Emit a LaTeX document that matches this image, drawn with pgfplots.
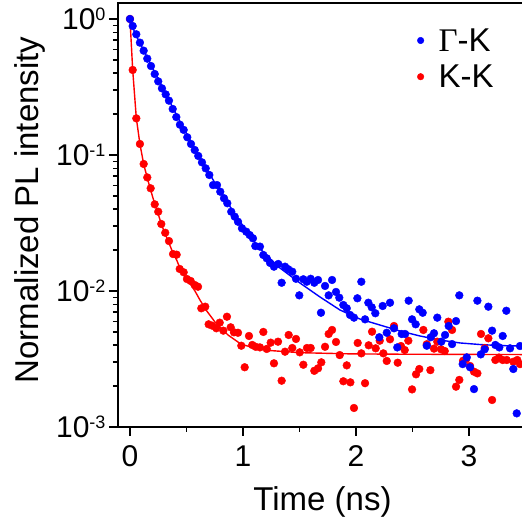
\documentclass[border=0pt]{standalone}
\usepackage{fontspec}
\setmainfont{Liberation Sans}
\newfontfamily\greekserif{Liberation Serif}
\usepackage{pgfplots}
\pgfplotsset{compat=1.18}

\newcommand\dec[1]{10\raisebox{8.6pt}{\fontsize{18}{18}\selectfont #1}}

% Gamma-K decay, measured points
\pgfplotstableread{
t I
0.000 1.000
0.024 0.888
0.056 0.772
0.088 0.670
0.121 0.585
0.153 0.511
0.186 0.451
0.219 0.394
0.250 0.348
0.283 0.309
0.316 0.279
0.345 0.251
0.378 0.218
0.410 0.190
0.442 0.167
0.475 0.153
0.507 0.135
0.540 0.1205
0.573 0.1088
0.604 0.0984
0.637 0.0883
0.670 0.0798
0.702 0.0713
0.735 0.0601
0.770 0.0601
0.799 0.0537
0.832 0.0481
0.861 0.0442
0.896 0.0383
0.927 0.0352
0.956 0.0323
0.991 0.0289
1.029 0.0273
1.059 0.0258
1.088 0.0244
1.109 0.0214
1.150 0.0212
1.180 0.0184
1.210 0.0174
1.239 0.0161
1.274 0.0151
1.312 0.0158
1.342 0.0115
1.372 0.0151
1.401 0.01445
1.436 0.01387
1.469 0.0123
1.498 0.00929
1.534 0.0122
1.564 0.0117
1.599 0.0123
1.631 0.0115
1.664 0.01205
1.690 0.00692
1.726 0.01089
1.758 0.00929
1.788 0.01205
1.823 0.00984
1.852 0.00893
1.888 0.00789
1.918 0.00746
1.947 0.00667
1.982 0.00637
2.012 0.00884
2.047 0.0117
2.080 0.00619
2.109 0.00820
2.139 0.00759
2.171 0.00686
2.206 0.00457
2.236 0.00776
2.272 0.00493
2.301 0.00820
2.336 0.00532
2.365 0.00385
2.404 0.00483
2.434 0.00483
2.466 0.00849
2.496 0.00619
2.528 0.00569
2.560 0.00733
2.590 0.00692
2.626 0.00396
2.661 0.00457
2.690 0.00489
2.719 0.00637
2.755 0.00424
2.788 0.00475
2.820 0.00553
2.850 0.00407
2.885 0.00601
2.914 0.00929
2.944 0.00290
2.980 0.00325
3.009 0.00275
3.044 0.00190
3.074 0.00849
3.104 0.00342
3.139 0.00373
3.171 0.00767
3.204 0.00511
3.233 0.00401
3.268 0.00385
3.298 0.00467
3.330 0.00716
3.363 0.00379
3.392 0.00267
3.422 0.00126
3.451 0.00394
}\gkdata

% K-K decay, measured points
\pgfplotstableread{
t I
0.000 1.000
0.024 0.422
0.056 0.186
0.088 0.1205
0.121 0.0859
0.153 0.0684
0.183 0.0569
0.219 0.0434
0.250 0.0383
0.277 0.0311
0.312 0.0268
0.345 0.0233
0.381 0.0187
0.413 0.0185
0.440 0.01452
0.475 0.01373
0.504 0.01225
0.537 0.01185
0.573 0.01107
0.602 0.01075
0.631 0.00746
0.666 0.00767
0.696 0.00569
0.728 0.00556
0.764 0.00532
0.794 0.00585
0.826 0.00511
0.858 0.00647
0.891 0.00541
0.920 0.00497
0.956 0.00493
0.985 0.00396
1.015 0.00275
1.053 0.00467
1.082 0.00401
1.112 0.00389
1.150 0.00385
1.180 0.00500
1.210 0.00375
1.245 0.00417
1.274 0.00294
1.310 0.00424
1.342 0.00219
1.372 0.00358
1.404 0.00475
1.436 0.00381
1.469 0.00444
1.502 0.00354
1.534 0.00287
1.566 0.00381
1.599 0.00381
1.631 0.00259
1.664 0.00270
1.693 0.00299
1.726 0.00389
1.758 0.00483
1.788 0.00517
1.823 0.00422
1.856 0.00338
1.888 0.00217
1.918 0.00284
1.950 0.00213
1.982 0.00138
2.015 0.00415
2.047 0.00348
2.080 0.00210
2.112 0.00399
2.142 0.00502
2.174 0.00379
2.210 0.00431
2.242 0.00348
2.272 0.00306
2.301 0.00442
2.336 0.00553
2.369 0.00297
2.398 0.00394
2.431 0.00368
2.463 0.00431
2.496 0.00189
2.531 0.00244
2.560 0.00267
2.596 0.00517
2.626 0.00406
2.658 0.00262
2.690 0.00377
2.719 0.00424
2.752 0.00373
2.785 0.00362
2.817 0.00595
2.850 0.00517
2.885 0.00198
2.914 0.00222
2.947 0.00307
2.973 0.00315
3.009 0.00281
3.044 0.00255
3.074 0.00248
3.106 0.00483
3.139 0.00381
3.171 0.00449
3.204 0.00158
3.233 0.00311
3.265 0.00324
3.298 0.00311
3.334 0.00311
3.392 0.00302
3.427 0.00311
3.451 0.00290
}\kkdata

% fitted curves
\pgfplotstableread{
t I
0.000 1.000
0.044 0.789
0.133 0.562
0.221 0.401
0.310 0.290
0.398 0.207
0.487 0.150
0.575 0.1107
0.664 0.0830
0.752 0.0622
0.841 0.0475
0.929 0.0368
1.018 0.0286
1.106 0.02254
1.195 0.01871
1.327 0.01476
1.504 0.01145
1.681 0.00904
1.858 0.00725
2.035 0.00622
2.212 0.00562
2.389 0.00508
2.566 0.00467
2.743 0.00436
2.920 0.00415
3.097 0.00404
3.274 0.00397
3.460 0.00394
3.520 0.00393
}\gkfit

\pgfplotstableread{
t I
0.000 1.000
0.024 0.422
0.056 0.187
0.088 0.1205
0.121 0.0859
0.153 0.0678
0.183 0.0553
0.219 0.0436
0.250 0.0368
0.277 0.0311
0.312 0.0262
0.345 0.02254
0.381 0.0190
0.413 0.0169
0.442 0.01476
0.478 0.01312
0.504 0.01205
0.540 0.01107
0.575 0.0100
0.619 0.00859
0.673 0.00725
0.752 0.00592
0.867 0.00475
0.982 0.00407
1.115 0.00378
1.239 0.00365
1.504 0.00352
1.947 0.00345
2.389 0.00343
3.460 0.00341
3.520 0.00341
}\kkfit

\begin{document}
\begin{tikzpicture}
\begin{axis}[
  scale only axis,
  width=409pt, height=424pt,
  xmin=-0.106, xmax=3.513,
  ymode=log, ymin=1e-3, ymax=1.311,
  xtick={0,1,2,3}, xticklabels={0,1,2,3},
  minor xtick={0.5,1.5,2.5,3.5},
  ytick={1e-3,1e-2,1e-1,1},
  yticklabels={\dec{-3},\dec{-2},\dec{-1},\dec{0}},
  minor ytick={2e-3,3e-3,4e-3,5e-3,6e-3,7e-3,8e-3,9e-3,
               2e-2,3e-2,4e-2,5e-2,6e-2,7e-2,8e-2,9e-2,
               2e-1,3e-1,4e-1,5e-1,6e-1,7e-1,8e-1,9e-1},
  xtick pos=bottom, ytick pos=left,
  tick align=outside,
  major tick length=9pt, minor tick length=5pt,
  every tick/.style={black, line width=1.3pt},
  axis line style={line width=2pt},
  ticklabel style={font=\fontsize{30}{32}\selectfont},
  xticklabel style={yshift=-6pt},
  label style={font=\fontsize{33}{38}\selectfont},
  xlabel={Time (ns)},
  ylabel={Normalized PL intensity},
  xlabel style={at={(axis description cs:0.5,-0.177)}, anchor=center},
  ylabel style={at={(axis description cs:-0.215,0.512)}, anchor=center, rotate=0},
  reverse legend,
  legend style={draw=none, fill=none, at={(axis description cs:0.724,0.950)}, anchor=north west,
    font=\fontsize{33}{38}\selectfont, row sep=8pt,
    nodes={inner sep=2pt}},
  legend cell align=left,
  legend image code/.code={
    \path[draw=none, fill=none] (0pt,0pt) -- (16pt,0pt);
    \draw[#1, mark size=3.3pt] plot coordinates {(0pt,0pt)};
  },
]
\addplot[only marks, mark=*, mark size=3.9pt, red, mark options={fill=red, draw=none}] table[x=t, y=I] {\kkdata};
\addlegendentry{K-K}
\addplot[only marks, mark=*, mark size=3.9pt, blue, mark options={fill=blue, draw=none}] table[x=t, y=I] {\gkdata};
\addlegendentry{{\greekserif Γ}-K}
\addplot[red, line width=1.4pt, forget plot] table[x=t, y=I] {\kkfit};
\addplot[blue, line width=1.4pt, forget plot] table[x=t, y=I] {\gkfit};
\end{axis}
\pgfresetboundingbox
\path ([xshift=-118pt, yshift=-96pt]current axis.south west) rectangle ([xshift=403pt, yshift=3pt]current axis.north west);
\end{tikzpicture}
\end{document}
